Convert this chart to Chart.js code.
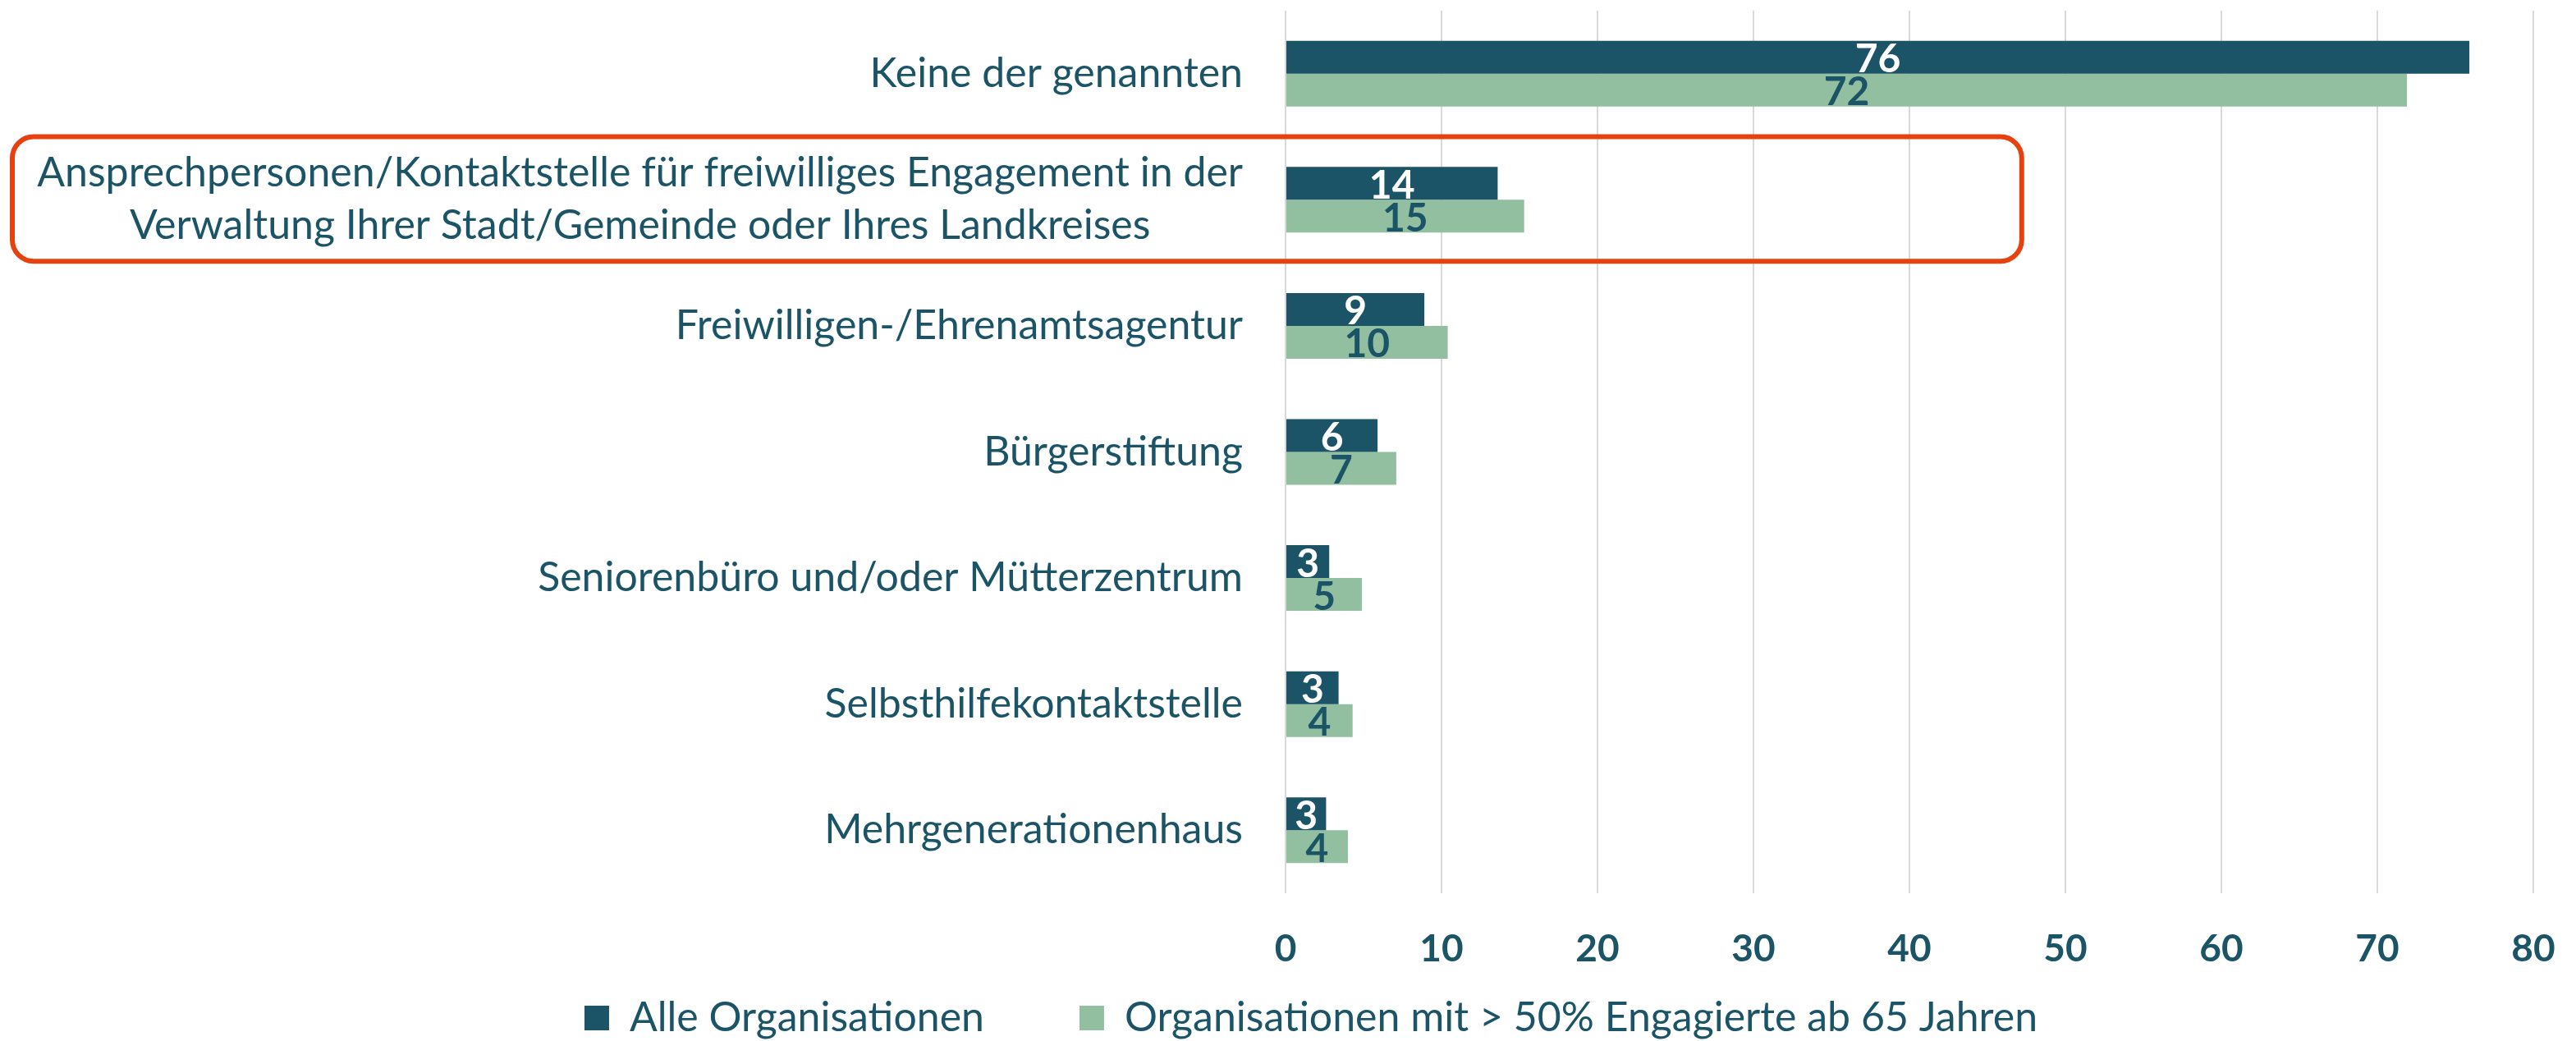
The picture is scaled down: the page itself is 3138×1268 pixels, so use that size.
<!DOCTYPE html>
<html lang="de">
<head>
    <meta charset="UTF-8">
    <title>Anlaufstellen für Engagement</title>
    <style>
        html, body {
            margin: 0;
            padding: 0;
            background: #ffffff;
            overflow: hidden;
        }

        .chart-box {
            position: relative;
            width: 3138px;
            height: 1268px;
        }
    </style>
    <script src="https://cdn.jsdelivr.net/npm/chart.js"></script>
</head>
<body>
    <div class="chart-box">
        <canvas id="stellenChart"></canvas>
    </div>

    <script>
        // categories (top to bottom), multi-line labels as arrays
        const categories = [
            'Keine der genannten',
            ['Ansprechpersonen/Kontaktstelle für freiwilliges Engagement in der', 'Verwaltung Ihrer Stadt/Gemeinde oder Ihres Landkreises'],
            'Freiwilligen-/Ehrenamtsagentur',
            'Bürgerstiftung',
            'Seniorenbüro und/oder Mütterzentrum',
            'Selbsthilfekontaktstelle',
            'Mehrgenerationenhaus'
        ];
        const seriesNames = ['Alle Organisationen', 'Organisationen mit > 50% Engagierte ab 65 Jahren'];
        const alleValues = [75.9, 13.6, 8.9, 5.9, 2.8, 3.4, 2.6];
        const seniorValues = [71.9, 15.3, 10.4, 7.1, 4.9, 4.3, 4.0];
        const xTicks = [0, 10, 20, 30, 40, 50, 60, 70, 80];
        const highlightIndex = 1;

        const darkTeal = '#1c5467';
        const sage = '#92bfa0';
        const fontFamily = 'Lato, "Open Sans", sans-serif';

        // category labels: block right-aligned, lines centred inside the block
        const categoryLabels = {
            id: 'categoryLabels',
            afterDraw(chart) {
                const ctx = chart.ctx;
                const yScale = chart.scales.y;
                const right = chart.chartArea.left - 52;
                const lineGap = 64;
                ctx.save();
                ctx.font = '50px ' + fontFamily;
                ctx.fillStyle = darkTeal;
                ctx.textAlign = 'center';
                ctx.textBaseline = 'middle';
                categories.forEach((label, i) => {
                    const lines = Array.isArray(label) ? label : [label];
                    const blockWidth = Math.max(...lines.map(l => ctx.measureText(l).width));
                    const cx = right - blockWidth / 2;
                    const cy = yScale.getPixelForTick(i);
                    lines.forEach((line, j) => {
                        ctx.fillText(line, cx, cy + (j - (lines.length - 1) / 2) * lineGap);
                    });
                });
                ctx.restore();
            }
        };

        // x tick values under the plot
        const valueAxisLabels = {
            id: 'valueAxisLabels',
            afterDraw(chart) {
                const ctx = chart.ctx;
                const xScale = chart.scales.x;
                ctx.save();
                ctx.font = 'bold 46px ' + fontFamily;
                ctx.fillStyle = darkTeal;
                ctx.textAlign = 'center';
                ctx.textBaseline = 'middle';
                xTicks.forEach(v => {
                    ctx.fillText(String(v), xScale.getPixelForValue(v), chart.chartArea.bottom + 68);
                });
                ctx.restore();
            }
        };

        // rounded values written inside the bars
        const barValues = {
            id: 'barValues',
            afterDatasetsDraw(chart) {
                const ctx = chart.ctx;
                ctx.save();
                ctx.font = 'bold 48px ' + fontFamily;
                ctx.textAlign = 'center';
                ctx.textBaseline = 'middle';
                chart.data.datasets.forEach((ds, d) => {
                    ctx.fillStyle = d === 0 ? '#ffffff' : darkTeal;
                    chart.getDatasetMeta(d).data.forEach((bar, i) => {
                        ctx.fillText(Math.round(ds.data[i]), (bar.x + bar.base) / 2, bar.y + 3);
                    });
                });
                ctx.restore();
            }
        };

        // red rounded frame around the highlighted category
        const highlightFrame = {
            id: 'highlightFrame',
            afterDraw(chart) {
                const ctx = chart.ctx;
                const yScale = chart.scales.y;
                const xScale = chart.scales.x;
                const band = yScale.getPixelForTick(1) - yScale.getPixelForTick(0);
                const cy = yScale.getPixelForTick(highlightIndex);
                const top = cy - band / 2;
                const bottom = cy + band / 2 - 2;
                const left = 15;
                const right = xScale.getPixelForValue(47.2);
                ctx.save();
                ctx.strokeStyle = '#e6410f';
                ctx.lineWidth = 6;
                ctx.beginPath();
                ctx.roundRect(left, top, right - left, bottom - top, 26);
                ctx.stroke();
                ctx.restore();
            }
        };

        new Chart(document.getElementById('stellenChart'), {
            type: 'bar',
            data: {
                labels: categories,
                datasets: [
                    { label: seriesNames[0], data: alleValues, backgroundColor: darkTeal, borderWidth: 0 },
                    { label: seriesNames[1], data: seniorValues, backgroundColor: sage, borderWidth: 0 }
                ]
            },
            options: {
                indexAxis: 'y',
                responsive: true,
                maintainAspectRatio: false,
                animation: false,
                devicePixelRatio: 1,
                categoryPercentage: 0.521,
                barPercentage: 1,
                // left padding only nudges the centred legend to the right
                layout: { padding: { top: 13, right: 52, left: 108, bottom: -7 } },
                scales: {
                    x: {
                        min: 0,
                        max: 80,
                        afterBuildTicks(scale) {
                            scale.ticks = xTicks.map(v => ({ value: v }));
                        },
                        afterFit(scale) {
                            scale.height = 11;
                        },
                        grid: { color: '#d9d9d9', lineWidth: 2, drawTicks: false },
                        border: { display: false },
                        ticks: { display: false }
                    },
                    y: {
                        grid: { display: false },
                        border: { display: false },
                        ticks: { display: false },
                        afterFit(scale) {
                            scale.width = 1458;
                        }
                    }
                },
                plugins: {
                    legend: {
                        position: 'bottom',
                        labels: {
                            boxWidth: 30,
                            boxHeight: 30,
                            padding: 116,
                            color: darkTeal,
                            font: { family: fontFamily, size: 50 }
                        }
                    },
                    tooltip: { enabled: false }
                }
            },
            plugins: [categoryLabels, valueAxisLabels, barValues, highlightFrame]
        });
    </script>
</body>
</html>
